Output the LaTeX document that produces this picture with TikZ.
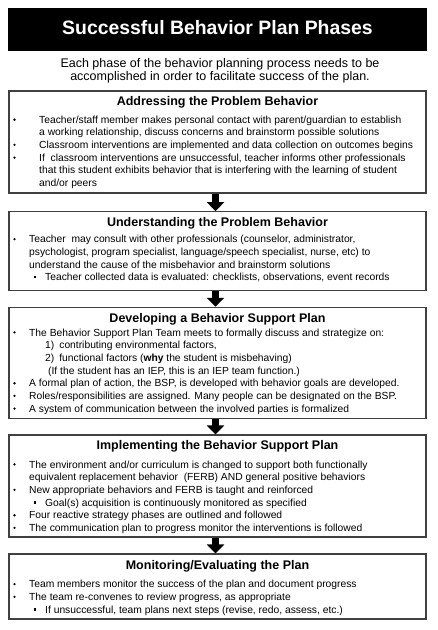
\documentclass[tikz,border=0pt]{standalone}
\usepackage{fontspec}
\setmainfont{Liberation Sans}
\usepackage{xcolor}
\usepackage{tikz}
\usetikzlibrary{arrows.meta}

\begin{document}
\begin{tikzpicture}[x=1pt,y=-1pt,
    phase/.style={draw=black!75,line width=1.1pt,fill=white,minimum width=417pt,inner sep=0pt},
    head/.style={anchor=base,inner sep=0pt,font=\bfseries\fontsize{12.5}{14}\selectfont},
    line/.style={anchor=base west,inner sep=0pt,font=\fontsize{10.3}{12}\selectfont},
    bigarrow/.style={line width=7pt,-{Triangle[width=17pt,length=9pt]}}]
    \useasboundingbox (0,0) rectangle (437,630);
        % title bar
        \node[fill=black,minimum width=419pt,minimum height=43pt,inner sep=0pt] (titlebar) at (217.5,29.5) {};
        \node[anchor=base,inner sep=0pt,text=white,font=\bfseries\fontsize{19.4}{23}\selectfont] (title) at (217.5,34) {Successful Behavior Plan Phases};
        \node[anchor=base,inner sep=0pt,font=\fontsize{12.5}{14}\selectfont] (intro1) at (220,67.5) {Each phase of the behavior planning process needs to be};
        \node[anchor=base,inner sep=0pt,font=\fontsize{12.5}{14}\selectfont] (intro2) at (220,80.5) {accomplished in order to facilitate success of the plan.};
        % phase boxes
        \node[phase,minimum height=102pt] (addr) at (217.5,142) {};
        \node[phase,minimum height=79pt] (under) at (217.5,251.2) {};
        \node[phase,minimum height=111pt] (devel) at (217.5,362.8) {};
        \node[phase,minimum height=102pt] (impl) at (217.5,486) {};
        \node[phase,minimum height=65pt] (moni) at (217.5,586.5) {};
        % arrows between phases
        \draw[bigarrow] ([xshift=-2pt]addr.south) -- ([xshift=-2pt]under.north);
        \draw[bigarrow] ([xshift=-2pt]under.south) -- ([xshift=-2pt]devel.north);
        \draw[bigarrow] ([xshift=-2pt]devel.south) -- ([xshift=-2pt]impl.north);
        \draw[bigarrow] ([xshift=-2pt]impl.south) -- ([xshift=-2pt]moni.north);
        % bullets
        \foreach \y in {123.3,148.5,161.2,242.7,336,386.8,399.5,412.2,468,493.4,518.8,531.5,587.7,600.4}
            \fill (14.5,\y-3.6) circle (1.3pt);
        \foreach \y in {280.8,506.1,613.1}
            \fill (33.5,\y-5.2) rectangle (36.3,\y-2.4);
        % addressing
        \node[head] (addrh) at (217.5,105) {Addressing the Problem Behavior};
        \node[line] (addr1) at (39,123.3) {Teacher/staff member makes personal contact with parent/guardian to establish};
        \node[line] (addr2) at (39,135.9) {a working relationship, discuss concerns and brainstorm possible solutions};
        \node[line] (addr3) at (39,148.5) {Classroom interventions are implemented and data collection on outcomes begins};
        \node[line] (addr4) at (39,161.2) {If\ \ classroom interventions are unsuccessful, teacher informs other professionals};
        \node[line] (addr5) at (39,173.9) {that this student exhibits behavior that is interfering with the learning of student};
        \node[line] (addr6) at (39,186.6) {and/or peers};
        % understanding
        \node[head] (underh) at (217.5,226.7) {Understanding the Problem Behavior};
        \node[line] (under1) at (29,242.7) {Teacher\ \ may consult with other professionals (counselor, administrator,};
        \node[line] (under2) at (29,255.4) {psychologist, program specialist, language/speech specialist, nurse, etc) to};
        \node[line] (under3) at (29,268.1) {understand the cause of the misbehavior and brainstorm solutions};
        \node[line] (under4) at (45,280.8) {Teacher collected data is evaluated: checklists, observations, event records};
        % developing
        \node[head] (develh) at (217.5,322.7) {Developing a Behavior Support Plan};
        \node[line] (devel1) at (29,336) {The Behavior Support Plan Team meets to formally discuss and strategize on:};
        \node[line] (devel2) at (45,348.7) {1)\hspace{5pt}contributing environmental factors,};
        \node[line] (devel3) at (45,361.4) {2)\hspace{5pt}functional factors (\textbf{why} the student is misbehaving)};
        \node[line] (devel4) at (48,374.1) {(If the student has an IEP, this is an IEP team function.)};
        \node[line] (devel5) at (29,386.8) {A formal plan of action, the BSP, is developed with behavior goals are developed.};
        \node[line] (devel6) at (29,399.5) {Roles/responsibilities are assigned. Many people can be designated on the BSP.};
        \node[line] (devel7) at (29,412.2) {A system of communication between the involved parties is formalized};
        % implementing
        \node[head] (implh) at (217.5,449.3) {Implementing the Behavior Support Plan};
        \node[line] (impl1) at (29,468) {The environment and/or curriculum is changed to support both functionally};
        \node[line] (impl2) at (29,480.7) {equivalent replacement behavior\ \ (FERB) AND general positive behaviors};
        \node[line] (impl3) at (29,493.4) {New appropriate behaviors and FERB is taught and reinforced};
        \node[line] (impl4) at (45,506.1) {Goal(s) acquisition is continuously monitored as specified};
        \node[line] (impl5) at (29,518.8) {Four reactive strategy phases are outlined and followed};
        \node[line] (impl6) at (29,531.5) {The communication plan to progress monitor the interventions is followed};
        % monitoring
        \node[head] (monih) at (217.5,569.3) {Monitoring/Evaluating the Plan};
        \node[line] (moni1) at (29,587.7) {Team members monitor the success of the plan and document progress};
        \node[line] (moni2) at (29,600.4) {The team re-convenes to review progress, as appropriate};
        \node[line] (moni3) at (45,613.1) {If unsuccessful, team plans next steps (revise, redo, assess, etc.)};
    \end{tikzpicture}
\end{document}
